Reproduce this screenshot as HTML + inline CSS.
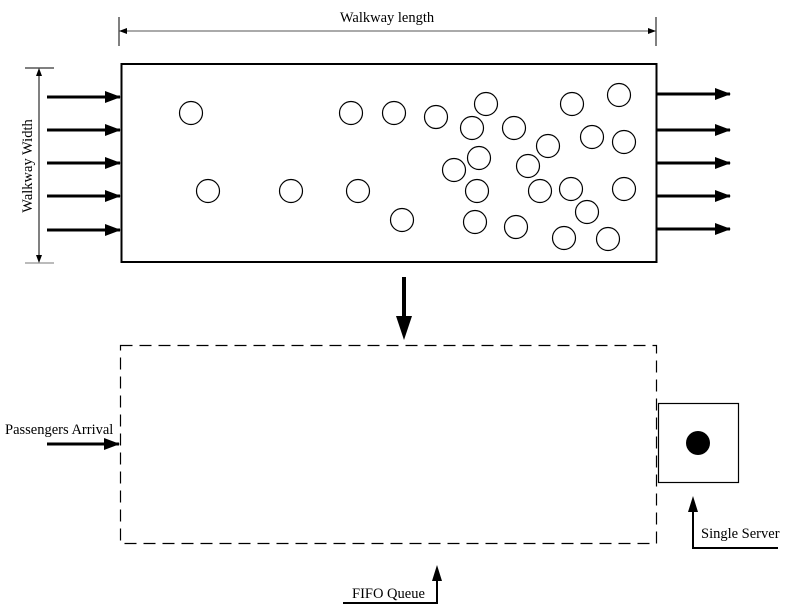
<!DOCTYPE html>
<html><head><meta charset="utf-8"><style>
html,body{margin:0;padding:0;background:#fff;}
svg{display:block;}
text{font-family:"Liberation Serif",serif;fill:#000;}
</style></head><body>
<svg width="787" height="614" viewBox="0 0 787 614" xmlns="http://www.w3.org/2000/svg">
<defs>
<marker id="ah" markerWidth="16" markerHeight="12" refX="15" refY="6" orient="auto" markerUnits="userSpaceOnUse"><path d="M0,0 L16,6 L0,12 Z" fill="#000"/></marker>
<marker id="sm" markerWidth="8" markerHeight="6" refX="7" refY="3" orient="auto-start-reverse" markerUnits="userSpaceOnUse"><path d="M0,0 L8,3 L0,6 Z" fill="#000"/></marker>
</defs>
<line x1="119" y1="17" x2="119" y2="46" stroke="#000"/>
<line x1="656" y1="17" x2="656" y2="46" stroke="#000"/>
<line x1="120" y1="31" x2="655" y2="31" stroke="#555" marker-start="url(#sm)" marker-end="url(#sm)"/>
<text x="387" y="22" font-size="14.5" text-anchor="middle">Walkway length</text>
<line x1="25" y1="68" x2="54" y2="68" stroke="#000"/>
<line x1="25" y1="263" x2="54" y2="263" stroke="#777"/>
<line x1="39" y1="69" x2="39" y2="262" stroke="#000" marker-start="url(#sm)" marker-end="url(#sm)"/>
<text x="0" y="0" font-size="14.5" text-anchor="middle" transform="translate(32,166) rotate(-90)">Walkway Width</text>
<rect x="121.5" y="64" width="535" height="198" fill="none" stroke="#000" stroke-width="2"/>
<g stroke="#000" stroke-width="3">
<line x1="47" y1="97" x2="120" y2="97" marker-end="url(#ah)"/>
<line x1="47" y1="130" x2="120" y2="130" marker-end="url(#ah)"/>
<line x1="47" y1="163" x2="120" y2="163" marker-end="url(#ah)"/>
<line x1="47" y1="196" x2="120" y2="196" marker-end="url(#ah)"/>
<line x1="47" y1="230" x2="120" y2="230" marker-end="url(#ah)"/>
<line x1="657" y1="94" x2="730" y2="94" marker-end="url(#ah)"/>
<line x1="657" y1="130" x2="730" y2="130" marker-end="url(#ah)"/>
<line x1="657" y1="163" x2="730" y2="163" marker-end="url(#ah)"/>
<line x1="657" y1="196" x2="730" y2="196" marker-end="url(#ah)"/>
<line x1="657" y1="229" x2="730" y2="229" marker-end="url(#ah)"/>
</g>
<g fill="none" stroke="#000" stroke-width="1.2">
<circle cx="191" cy="113" r="11.5"/><circle cx="208" cy="191" r="11.5"/><circle cx="291" cy="191" r="11.5"/>
<circle cx="351" cy="113" r="11.5"/><circle cx="358" cy="191" r="11.5"/><circle cx="394" cy="113" r="11.5"/>
<circle cx="402" cy="220" r="11.5"/><circle cx="436" cy="117" r="11.5"/><circle cx="486" cy="104" r="11.5"/>
<circle cx="472" cy="128" r="11.5"/><circle cx="514" cy="128" r="11.5"/><circle cx="479" cy="158" r="11.5"/>
<circle cx="454" cy="170" r="11.5"/><circle cx="477" cy="191" r="11.5"/><circle cx="548" cy="146" r="11.5"/>
<circle cx="528" cy="166" r="11.5"/><circle cx="540" cy="191" r="11.5"/><circle cx="475" cy="222" r="11.5"/>
<circle cx="516" cy="227" r="11.5"/><circle cx="572" cy="104" r="11.5"/><circle cx="619" cy="95" r="11.5"/>
<circle cx="592" cy="137" r="11.5"/><circle cx="624" cy="142" r="11.5"/><circle cx="571" cy="189" r="11.5"/>
<circle cx="624" cy="189" r="11.5"/><circle cx="587" cy="212" r="11.5"/><circle cx="564" cy="238" r="11.5"/>
<circle cx="608" cy="239" r="11.5"/>
</g>
<line x1="404" y1="277" x2="404" y2="318" stroke="#000" stroke-width="4"/>
<path d="M396,316 L412,316 L404,340 Z" fill="#000"/>
<rect x="120.5" y="345.5" width="536" height="198" fill="none" stroke="#000" stroke-width="1.2" stroke-dasharray="12,7"/>
<text x="5" y="434" font-size="14.5">Passengers Arrival</text>
<line x1="47" y1="444" x2="119" y2="444" stroke="#000" stroke-width="3" marker-end="url(#ah)"/>
<rect x="658.5" y="403.5" width="80" height="79" fill="none" stroke="#000" stroke-width="1.2"/>
<circle cx="698" cy="443" r="12" fill="#000"/>
<polyline points="778,548 693,548 693,510" fill="none" stroke="#000" stroke-width="2"/>
<path d="M688,512 L698,512 L693,496 Z" fill="#000"/>
<text x="701" y="538" font-size="14.5">Single Server</text>
<polyline points="343,603 437,603 437,580" fill="none" stroke="#000" stroke-width="2"/>
<path d="M432,581 L442,581 L437,565 Z" fill="#000"/>
<text x="352" y="598" font-size="14.5">FIFO Queue</text>
</svg>
</body></html>
